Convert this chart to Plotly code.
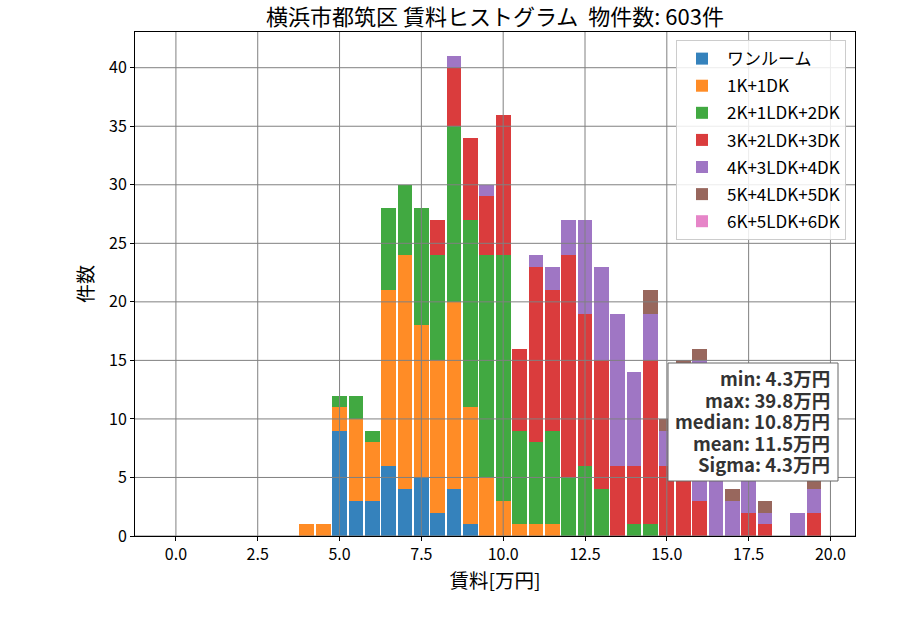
import plotly.graph_objects as go

# bin centres (width 0.5)
bins = [4.0, 4.5, 5.0, 5.5, 6.0, 6.5, 7.0, 7.5, 8.0, 8.5, 9.0, 9.5, 10.0, 10.5, 11.0, 11.5,
        12.0, 12.5, 13.0, 13.5, 14.0, 14.5, 15.0, 15.5, 16.0, 16.5, 17.0, 17.5, 18.0, 18.5, 19.0, 19.5]

categories = ["ワンルーム", "1K+1DK", "2K+1LDK+2DK", "3K+2LDK+3DK", "4K+3LDK+4DK", "5K+4LDK+5DK", "6K+5LDK+6DK"]

one_room = [0, 0, 9, 3, 3, 6, 4, 5, 2, 4, 1, 0, 0, 0, 0, 0,
            0, 0, 0, 0, 0, 0, 0, 0, 0, 0, 0, 0, 0, 0, 0, 0]
k1 = [1, 1, 2, 7, 5, 15, 20, 13, 13, 16, 10, 5, 3, 1, 1, 1,
      0, 0, 0, 0, 0, 0, 0, 0, 0, 0, 0, 0, 0, 0, 0, 0]
k2 = [0, 0, 1, 2, 1, 7, 6, 10, 9, 15, 16, 19, 21, 8, 7, 8,
      5, 6, 4, 0, 1, 1, 0, 0, 0, 0, 0, 0, 0, 0, 0, 0]
k3 = [0, 0, 0, 0, 0, 0, 0, 0, 3, 5, 7, 5, 12, 7, 15, 12,
      19, 13, 11, 6, 5, 14, 6, 8, 3, 0, 0, 2, 1, 0, 0, 2]
k4 = [0, 0, 0, 0, 0, 0, 0, 0, 0, 1, 0, 1, 0, 0, 1, 2,
      3, 8, 8, 13, 8, 4, 3, 6, 12, 9, 3, 5, 1, 0, 2, 2]
k5 = [0, 0, 0, 0, 0, 0, 0, 0, 0, 0, 0, 0, 0, 0, 0, 0,
      0, 0, 0, 0, 0, 2, 1, 1, 1, 0, 1, 0, 1, 0, 0, 1]
k6 = [0] * 32

series = [one_room, k1, k2, k3, k4, k5, k6]
colors = ["#3582bc", "#ff8c26", "#41a941", "#da3c3d", "#9f76c4", "#98675d", "#e685c8"]

stats_text = ["min: 4.3万円", "max: 39.8万円", "median: 10.8万円", "mean: 11.5万円", "Sigma: 4.3万円"]
title_text = "横浜市都筑区 賃料ヒストグラム\u00a0\u00a0物件数: 603件"

xticks = [0.0, 2.5, 5.0, 7.5, 10.0, 12.5, 15.0, 17.5, 20.0]
yticks = [0, 5, 10, 15, 20, 25, 30, 35, 40]

FONT = "Noto Sans CJK JP"

# plot-area geometry in pixels (for placing the stats box)
L, R, T, B = 135, 855, 32, 536
def px(xp):
    return (xp - L) / (R - L)
def py(yp):
    return (B - yp) / (B - T)

fig = go.Figure()
for name, vals, col in zip(categories, series, colors):
    fig.add_trace(go.Bar(x=bins, y=vals, name=name, width=0.45,
                         marker=dict(color=col, line=dict(width=0)),
                         legendgroup=name))

shapes = []
for xv in xticks:
    shapes.append(dict(type="line", xref="x", yref="paper", x0=xv, x1=xv, y0=0, y1=1,
                       line=dict(color="#808080", width=1), layer="above"))
for yv in yticks:
    shapes.append(dict(type="line", xref="paper", yref="y", x0=0, x1=1, y0=yv, y1=yv,
                       line=dict(color="#808080", width=1), layer="above"))
# stats box
shapes.append(dict(type="rect", xref="paper", yref="paper",
                   x0=px(668), x1=px(838), y0=py(481), y1=py(363),
                   fillcolor="white", line=dict(color="#666666", width=1), layer="above"))

fig.update_layout(
    width=900, height=630,
    margin=dict(l=L, r=900 - R, t=T, b=630 - B),
    paper_bgcolor="white", plot_bgcolor="white",
    barmode="stack", bargap=0,
    font=dict(family=FONT, size=16, color="black"),
    title=dict(text=title_text, x=0.5, xref="paper", xanchor="center",
               y=1 - 17 / 630, yanchor="middle", yref="container",
               font=dict(family=FONT, size=22, color="black")),
    xaxis=dict(range=[-1.25, 20.75], tickvals=xticks, ticktext=[f"{v:.1f}" for v in xticks],
               showgrid=False, zeroline=False, showline=True, mirror=True,
               linecolor="black", linewidth=1, ticks="outside", ticklen=4, tickcolor="black",
               title=dict(text="賃料[万円]", font=dict(size=19.5), standoff=7),
               tickfont=dict(size=16)),
    yaxis=dict(range=[0, 43.05], tickvals=yticks,
               showgrid=False, zeroline=False, showline=True, mirror=True,
               linecolor="black", linewidth=1, ticks="outside", ticklen=4, tickcolor="black",
               title=dict(text="件数", font=dict(size=19), standoff=10),
               tickfont=dict(size=16)),
    legend=dict(x=0.9875, y=0.984, xanchor="right", yanchor="top",
                bgcolor="rgba(255,255,255,0.85)", bordercolor="#cccccc", borderwidth=1,
                font=dict(size=17), tracegroupgap=2, itemwidth=40),
    shapes=shapes,
    showlegend=True,
)

line_centres = [378, 399.5, 421, 442.5, 464]
for txt, yc in zip(stats_text, line_centres):
    fig.add_annotation(
        text="<b>" + txt + "</b>",
        xref="paper", yref="paper", x=px(831), y=py(yc), xanchor="right", yanchor="middle",
        align="right", showarrow=False,
        font=dict(family=FONT, size=18.5, color="#333333"),
        borderpad=0,
    )

fig.write_html("out.html")
